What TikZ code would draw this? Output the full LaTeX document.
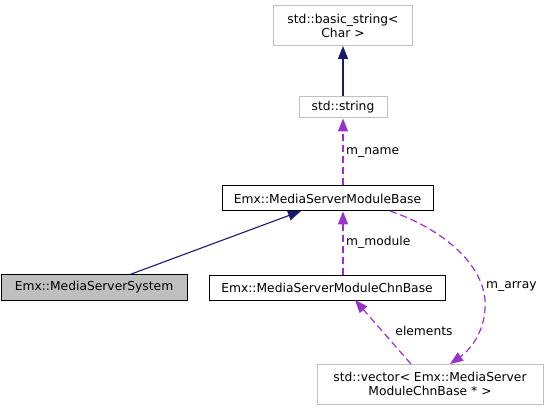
\documentclass[tikz,border=0pt]{standalone}
\usepackage{fontspec}
\setmainfont{DejaVu Sans}
\usetikzlibrary{arrows.meta}
\definecolor{navyedge}{RGB}{25,25,112}
\definecolor{orchid}{RGB}{153,50,204}
\definecolor{lgray}{RGB}{191,191,191}
\tikzset{
  cls/.style={draw=black, line width=1pt, fill=white, inner sep=0pt, font=\fontsize{12.3}{14}\selectfont, align=center},
  ext/.style={draw=lgray, line width=1pt, fill=white, inner sep=0pt, font=\fontsize{12.3}{14}\selectfont, align=center},
  inh/.style={draw=navyedge, line width=1.1pt, -{Triangle[length=13pt,width=10pt]}},
  use/.style={draw=orchid, line width=1.2pt, dash pattern=on 7pt off 4pt, -{Triangle[length=13pt,width=10pt]}},
  lbl/.style={font=\fontsize{12.3}{14}\selectfont, inner sep=1pt}
}
\begin{document}
\begin{tikzpicture}[x=1pt,y=-1pt]
\useasboundingbox (0,0) rectangle (548,411);
\node[ext, minimum width=139pt, minimum height=40pt] (bs) at (343,25.5) {std::basic\_string\textless\\Char \textgreater};
\node[ext, minimum width=88pt, minimum height=21pt] (str) at (343,107.5) {std::string};
\node[cls, minimum width=211pt, minimum height=25pt] (base) at (327.5,198.5) {Emx::MediaServerModuleBase};
\node[cls, fill=lgray, minimum width=186pt, minimum height=25pt] (sys) at (94,287.5) {Emx::MediaServerSystem};
\node[cls, minimum width=236pt, minimum height=24pt] (chn) at (327,288) {Emx::MediaServerModuleChnBase};
\node[ext, minimum width=226pt, minimum height=40pt] (vec) at (430,384) {std::vector\textless{} Emx::MediaServer\\ModuleChnBase * \textgreater};
\coordinate (sysA) at (130,274.5);
\coordinate (baseS) at (301,211);
\coordinate (baseR) at (390,211);
\coordinate (vecT) at (450,364);
\coordinate (vecE) at (411,364);
\coordinate (chnB) at (355,300);
\draw[inh] (str.north) -- (bs.south);
\draw[use] (base.north -| str.south) -- (str.south);
\draw[inh] (sysA) -- (baseS);
\draw[use] (chn.north -| str.south) -- (base.south -| str.south);
\draw[use] (vecE) -- (chnB);
\draw[use] (baseR) .. controls (440,228) and (482,262) .. (485,300) .. controls (487,330) and (470,350) .. (vecT);
\node[lbl, anchor=west] (lname) at (345,153) {m\_name};
\node[lbl, anchor=west] (lmod) at (345,242) {m\_module};
\node[lbl, anchor=west] (larr) at (485,287) {m\_array};
\node[lbl] (lel) at (424,331) {elements};
\end{tikzpicture}
\end{document}
